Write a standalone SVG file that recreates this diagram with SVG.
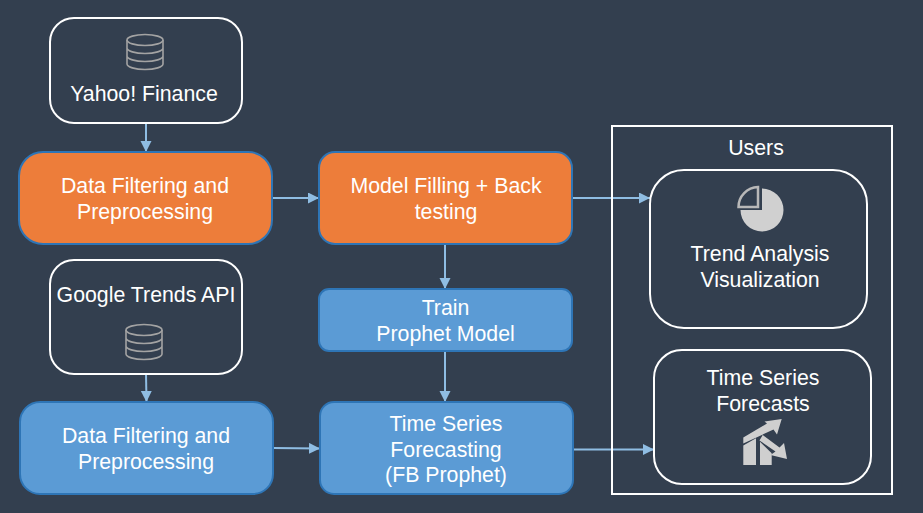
<svg xmlns="http://www.w3.org/2000/svg" width="923" height="513" viewBox="0 0 923 513">
<defs>
<marker id="arrow" markerUnits="userSpaceOnUse" markerWidth="12" markerHeight="12" refX="11" refY="5.500" orient="auto"><path d="M0 0L11 5.500L0 11Z" fill="#8fbde3"/></marker>
<g id="db" fill="none" stroke="#a3a3a3" stroke-width="1.6"><ellipse cx="0" cy="-12" rx="18" ry="5.5"/><path d="M-18 -12V12C-18 15-10 17.500 0 17.500S18 15 18 12V-12M-18 -4C-18 -1-10 1.500 0 1.500S18 -1 18 -4M-18 4C-18 7-10 9.500 0 9.500S18 7 18 4"/></g>
</defs>
<style>
text{font-family:"Liberation Sans",Arial,sans-serif;font-size:21.3px;fill:#fff;text-anchor:middle}
.w{fill:none;stroke:#fff;stroke-width:2}
.o{fill:#ed7d3a;stroke:#2e75b6;stroke-width:2}
.b{fill:#5b9bd5;stroke:#2e75b6;stroke-width:2}
.c{fill:none;stroke:#8fbde3;stroke-width:2;marker-end:url(#arrow)}
</style>
<rect width="923" height="513" fill="#333f4f"/>
<g id="connectors">
<path class="c" d="M146 123V152"/>
<path class="c" d="M272 198H319"/>
<path class="c" d="M445 244V289"/>
<path class="c" d="M445 351V402"/>
<path class="c" d="M572 198H650"/>
<path class="c" d="M146 374L146.500 402"/>
<path class="c" d="M273 448L320 448.500"/>
<path class="c" d="M573 449.500H654"/>
</g>
<g id="yahoo"><rect class="w" x="50" y="18" width="192" height="105" rx="24"/><use href="#db" x="145" y="52"/><text x="144" y="101">Yahoo! Finance</text></g>
<g id="filter-orange"><rect class="o" x="19" y="152" width="253" height="92" rx="24"/><text x="145" y="193">Data Filtering and</text><text x="145" y="219">Preprocessing</text></g>
<g id="model-filling"><rect class="o" x="319" y="152" width="253" height="92" rx="16"/><text x="446" y="193">Model Filling + Back</text><text x="446" y="219">testing</text></g>
<g id="google"><rect class="w" x="50" y="260" width="192" height="114" rx="24"/><text x="146" y="302">Google Trends API</text><use href="#db" x="144" y="342"/></g>
<g id="train"><rect class="b" x="319" y="289" width="253" height="62" rx="10"/><text x="445.500" y="315">Train</text><text x="445.500" y="341">Prophet Model</text></g>
<g id="filter-blue"><rect class="b" x="20" y="402" width="253" height="92" rx="20"/><text x="146" y="443">Data Filtering and</text><text x="146" y="469">Preprocessing</text></g>
<g id="forecasting"><rect class="b" x="320" y="402" width="253" height="92" rx="14"/><text x="446" y="431">Time Series</text><text x="446" y="457">Forecasting</text><text x="446" y="482">(FB Prophet)</text></g>
<g id="users"><rect class="w" x="612" y="126" width="280" height="368"/><text x="756" y="155">Users</text></g>
<g id="trend"><rect class="w" x="650" y="170" width="217" height="158" rx="34"/>
<path d="M762 188.500A21.500 21.500 0 1 1 740.500 210H762Z" fill="#d0d0d0"/>
<path d="M758 187V207H738.500A20 20 0 0 1 758 187Z" fill="none" stroke="#b8b8b8" stroke-width="2.500"/>
<text x="760" y="261">Trend Analysis</text><text x="760" y="287">Visualization</text></g>
<g id="forecasts"><rect class="w" x="654" y="350" width="217" height="134" rx="28"/>
<text x="763" y="385">Time Series</text><text x="763" y="411">Forecasts</text>
<path d="M743.300 465V445.500L756 438.300V465ZM760 465V441.700L771.700 453.300V465Z" fill="#cfcfcf"/>
<path d="M743.300 437.500L767 423.500L764.500 421.500L781.700 419L777 434.500L773.500 429.500L743.300 443.500Z" fill="#cfcfcf"/>
<path d="M759.500 440.500L762.700 435L779.500 447.500L784 443L787 459L770.500 455L775.500 451.500Z" fill="#cfcfcf"/></g>
</svg>
